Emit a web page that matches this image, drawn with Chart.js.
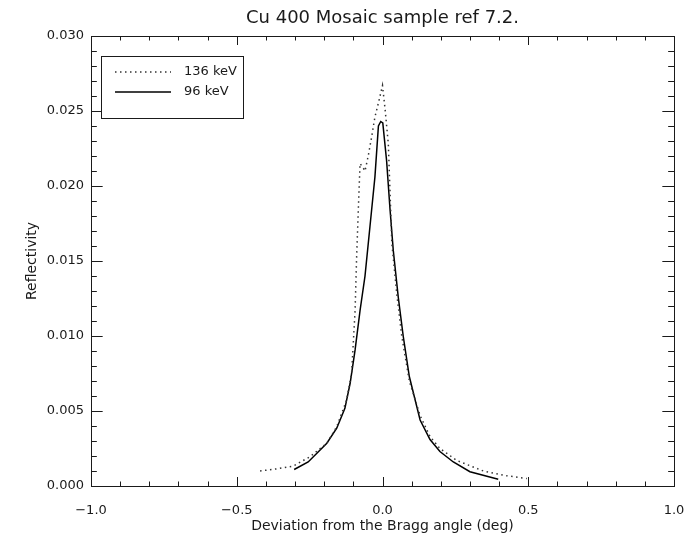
<!DOCTYPE html>
<html>
<head>
<meta charset="utf-8">
<script src="https://cdn.jsdelivr.net/npm/chart.js@4"></script>
<style>
  html, body { margin: 0; padding: 0; background: #fff; }
  #wrap { width: 688px; height: 540px; }
</style>
</head>
<body>
<div id="wrap"><canvas id="reflChart"></canvas></div>
<script>
// Datos
const titulo = "Cu 400 Mosaic sample ref 7.2.";
const etiquetas = ["136 keV", "96 keV"];

// 136 keV (punteada)
const x136 = [-0.42, -0.36, -0.306, -0.249, -0.191, -0.157, -0.123, -0.106, -0.094, -0.089, -0.083, -0.077, -0.066,
    -0.060, -0.049, -0.037, -0.026, -0.012, 0.0, 0.009, 0.020, 0.026, 0.032, 0.049, 0.066, 0.092,
    0.129, 0.163, 0.197, 0.255, 0.346, 0.420, 0.495];
const y136 = [0.0010, 0.00115, 0.00133, 0.00195, 0.00285, 0.00395, 0.00573, 0.0075, 0.0117, 0.0151, 0.0184, 0.0215, 0.0212,
    0.0210, 0.0220, 0.0233, 0.0246, 0.0257, 0.0267, 0.0251, 0.0228, 0.0195, 0.0162, 0.0128, 0.0100, 0.0070,
    0.0047, 0.0033, 0.0025, 0.0017, 0.00100, 0.0007, 0.0005];

// 96 keV (continua)
const x96 = [-0.303, -0.255, -0.191, -0.157, -0.129, -0.111, -0.094, -0.077, -0.060, -0.043, -0.026, -0.014, -0.006,
    0.001, 0.014, 0.026, 0.037, 0.054, 0.071, 0.092, 0.129, 0.163, 0.197, 0.243, 0.300, 0.397];
const y96 = [0.0011, 0.0016, 0.00285, 0.00385, 0.00518, 0.00685, 0.00907, 0.0117, 0.0140, 0.0173, 0.0206, 0.0240, 0.0243,
    0.0242, 0.0217, 0.0184, 0.0157, 0.0126, 0.0100, 0.0073, 0.0044, 0.0031, 0.0023, 0.0016, 0.00095, 0.00045];

function puntos(xs, ys) {
    return xs.map((x, i) => ({ x: x, y: ys[i] }));
}

const fuente = "'DejaVu Sans', sans-serif";
const tinta = '#1a1a1a';

// Marco completo con marcas hacia adentro (estilo IDL)
const marcoPlugin = {
    id: 'marco',
    afterDraw(chart) {
        const { ctx, chartArea: a, scales } = chart;
        ctx.save();
        ctx.strokeStyle = tinta;
        ctx.lineWidth = 1;
        ctx.strokeRect(Math.round(a.left) + 0.5, Math.round(a.top) + 0.5,
            Math.round(a.right - a.left), Math.round(a.bottom - a.top));

        const h = a.bottom - a.top, w = a.right - a.left;
        const xMayor = 0.02 * h, yMayor = 0.02 * w;
        ctx.beginPath();
        for (let i = 0; i <= 20; i++) {
            const v = -1 + i * 0.1;
            const px = Math.round(scales.x.getPixelForValue(v)) + 0.5;
            const len = (i % 5 === 0) ? xMayor : xMayor / 2;
            ctx.moveTo(px, a.bottom); ctx.lineTo(px, a.bottom - len);
            ctx.moveTo(px, a.top); ctx.lineTo(px, a.top + len);
        }
        for (let i = 0; i <= 30; i++) {
            const v = i * 0.001;
            const py = Math.round(scales.y.getPixelForValue(v)) + 0.5;
            const len = (i % 5 === 0) ? yMayor : yMayor / 2;
            ctx.moveTo(a.left, py); ctx.lineTo(a.left + len, py);
            ctx.moveTo(a.right, py); ctx.lineTo(a.right - len, py);
        }
        ctx.stroke();

        // titulo centrado sobre el area de la grafica
        ctx.fillStyle = tinta;
        ctx.font = "18px " + fuente;
        ctx.textAlign = 'center';
        ctx.textBaseline = 'middle';
        ctx.fillText(titulo, (a.left + a.right) / 2, 18);

        // leyenda dentro de la grafica
        const lx = a.left + 10, ly = a.top + 20;
        ctx.fillStyle = '#fff';
        ctx.fillRect(lx, ly, 142, 62);
        ctx.strokeRect(lx + 0.5, ly + 0.5, 142, 62);
        chart.data.datasets.forEach((ds, i) => {
            const yy = ly + 16 + i * 20;
            ctx.save();
            ctx.strokeStyle = ds.borderColor;
            ctx.lineWidth = ds.borderWidth;
            ctx.setLineDash(ds.borderDash || []);
            ctx.beginPath();
            ctx.moveTo(lx + 14, yy);
            ctx.lineTo(lx + 70, yy);
            ctx.stroke();
            ctx.restore();
            ctx.fillStyle = tinta;
            ctx.font = "13px " + fuente;
            ctx.textAlign = 'left';
            ctx.fillText(ds.label, lx + 83, yy);
        });
        ctx.restore();
    }
};

const ctx = document.getElementById('reflChart').getContext('2d');
new Chart(ctx, {
    type: 'scatter',
    data: {
        datasets: [{
            label: etiquetas[0],
            data: puntos(x136, y136),
            showLine: true,
            borderColor: '#333',
            borderWidth: 1.5,
            borderDash: [1.5, 3.5],
            pointRadius: 0,
            tension: 0
        }, {
            label: etiquetas[1],
            data: puntos(x96, y96),
            showLine: true,
            borderColor: '#000',
            borderWidth: 1.5,
            pointRadius: 0,
            tension: 0
        }]
    },
    options: {
        responsive: true,
        maintainAspectRatio: false,
        animation: false,
        layout: { padding: { top: 36, right: 14, left: 0, bottom: 0 } },
        plugins: {
            legend: { display: false },
            tooltip: { enabled: false }
        },
        scales: {
            x: {
                type: 'linear',
                min: -1,
                max: 1,
                afterFit: s => { s.height = 54; s.paddingLeft = 0; s.paddingRight = 0; },
                grid: { display: false, drawTicks: false },
                border: { display: false },
                ticks: {
                    stepSize: 0.5,
                    padding: 17,
                    color: tinta,
                    font: { family: fuente, size: 13 },
                    callback: v => v.toFixed(1).replace('-', '\u2212')
                },
                title: {
                    display: true,
                    text: 'Deviation from the Bragg angle (deg)',
                    color: tinta,
                    font: { family: fuente, size: 14 },
                    padding: { top: 0, bottom: 5 }
                }
            },
            y: {
                min: 0,
                max: 0.03,
                afterFit: s => { s.width = 91; },
                grid: { display: false, drawTicks: false },
                border: { display: false },
                ticks: {
                    stepSize: 0.005,
                    padding: 7,
                    color: tinta,
                    font: { family: fuente, size: 13 },
                    callback: v => v.toFixed(3)
                },
                title: {
                    display: true,
                    text: 'Reflectivity',
                    color: tinta,
                    font: { family: fuente, size: 14 },
                    padding: { top: 24, bottom: 0 }
                }
            }
        }
    },
    plugins: [marcoPlugin]
});
</script>
</body>
</html>
